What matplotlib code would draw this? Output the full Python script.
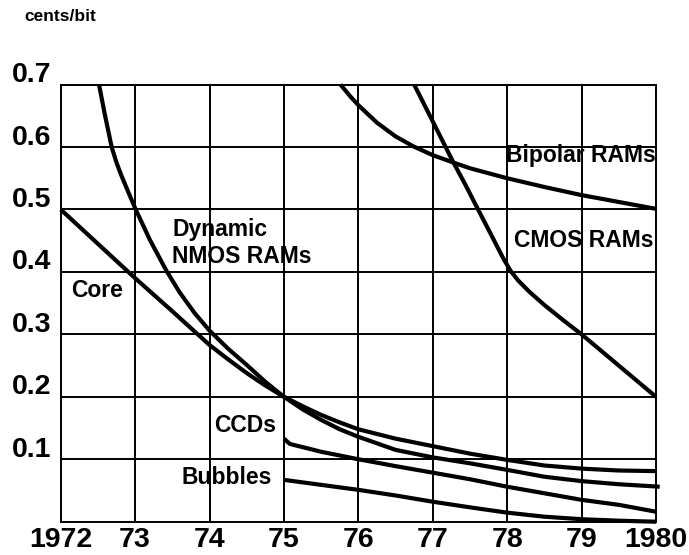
"""
Cost per bit of memory technologies, 1972-1980 (cents/bit).
Redraws the old line chart with a plain black-on-white grid.
"""
import matplotlib
matplotlib.use("Agg")
import matplotlib.pyplot as plt
from matplotlib.transforms import ScaledTranslation

# --- data --------------------------------------------------------------------
core_x = [1972.0, 1972.5, 1973.0, 1973.5, 1974.0, 1974.25, 1974.5, 1974.75, 1975.0,
          1975.25, 1975.5, 1975.75, 1976.0, 1976.5, 1977.0, 1977.5, 1978.0,
          1978.5, 1979.0, 1979.5, 1980.0]
core_y = [0.500, 0.445, 0.390, 0.337, 0.283, 0.260, 0.238, 0.218, 0.200,
          0.185, 0.171, 0.159, 0.148, 0.133, 0.121, 0.109, 0.099,
          0.090, 0.085, 0.082, 0.081]

nmos_x = [1972.515, 1972.595, 1972.685, 1972.75, 1972.82, 1973.0, 1973.2, 1973.42,
          1973.6, 1973.8, 1974.0, 1974.25, 1974.5, 1974.75, 1975.0, 1975.25,
          1975.5, 1975.75, 1976.0, 1976.5, 1977.0, 1977.5, 1978.0, 1978.5,
          1979.0, 1979.5, 1980.05]
nmos_y = [0.700, 0.651, 0.600, 0.575, 0.553, 0.502, 0.451, 0.402,
          0.367, 0.334, 0.306, 0.277, 0.251, 0.224, 0.200, 0.180,
          0.163, 0.148, 0.136, 0.115, 0.103, 0.0935, 0.083, 0.072,
          0.065, 0.060, 0.056]

ccd_x = [1975.0, 1975.08, 1975.5, 1976.0, 1976.5, 1977.0, 1977.5, 1978.0,
         1978.5, 1979.0, 1979.5, 1980.0]
ccd_y = [0.133, 0.1245, 0.112, 0.100, 0.089, 0.0785, 0.068, 0.056,
         0.0455, 0.035, 0.027, 0.016]

bubble_x = [1975.0, 1975.5, 1976.0, 1976.5, 1977.0, 1977.5, 1978.0, 1978.5,
            1979.0, 1979.5, 1980.0]
bubble_y = [0.067, 0.059, 0.051, 0.042, 0.032, 0.023, 0.0145, 0.008,
            0.004, 0.0016, 0.0]

bipolar_x = [1975.76, 1975.9, 1976.0, 1976.25, 1976.5, 1976.74, 1977.0, 1977.28,
             1977.5, 1978.0, 1978.5, 1979.0, 1979.5, 1980.0]
bipolar_y = [0.700, 0.680, 0.667, 0.639, 0.617, 0.601, 0.587, 0.575,
             0.566, 0.550, 0.536, 0.523, 0.512, 0.501]

cmos_x = [1976.75, 1977.0, 1977.27, 1977.45, 1977.6, 1977.8, 1977.95, 1978.05,
          1978.15, 1978.3, 1978.5, 1978.75, 1979.0, 1979.5, 1980.0]
cmos_y = [0.700, 0.641, 0.577, 0.537, 0.502, 0.456, 0.421, 0.401,
          0.386, 0.368, 0.347, 0.323, 0.300, 0.250, 0.200]

years = [1972, 1973, 1974, 1975, 1976, 1977, 1978, 1979, 1980]
year_labels = ["1972", "73", "74", "75", "76", "77", "78", "79", "1980"]
cost_ticks = [0.1, 0.2, 0.3, 0.4, 0.5, 0.6, 0.7]
cost_labels = ["0.1", "0.2", "0.3", "0.4", "0.5", "0.6", "0.7"]

# label text -> (x, y, horizontal alignment)
labels = {
    "Dynamic": (1973.50, 0.468, "left"),
    "NMOS RAMs": (1973.50, 0.425, "left"),
    "Core": (1972.14, 0.370, "left"),
    "CCDs": (1974.06, 0.154, "left"),
    "Bubbles": (1973.63, 0.071, "left"),
    "Bipolar RAMs": (1979.99, 0.587, "right"),
    "CMOS RAMs": (1979.97, 0.451, "right"),
}

FONT = "Liberation Sans"
plt.rcParams["font.family"] = [FONT, "DejaVu Sans"]

fig = plt.figure(figsize=(6.89, 5.55), dpi=100)
ax = fig.add_axes([0.0881, 0.060, 0.864, 0.7876])

ax.set_xlim(1972, 1980)
ax.set_ylim(0, 0.7)

# grid every year / every 0.1
for yr in years:
    ax.axvline(yr, color="black", lw=1.4, zorder=1)
for c in cost_ticks:
    ax.axhline(c, color="black", lw=1.4, zorder=1)
for side in ax.spines.values():
    side.set_linewidth(1.4)

line_kw = dict(color="black", lw=3.0, solid_capstyle="butt",
               solid_joinstyle="round", zorder=3, clip_on=False)
ax.plot(core_x, core_y, **line_kw)
ax.plot(nmos_x, nmos_y, **line_kw)
ax.plot(ccd_x, ccd_y, **line_kw)
ax.plot(bubble_x, bubble_y, **line_kw)
ax.plot(bipolar_x, bipolar_y, **line_kw)
ax.plot(cmos_x, cmos_y, **line_kw)

for text, (x, y, ha) in labels.items():
    ax.text(x, y, text, ha=ha, va="center", fontsize=16.5, fontweight="bold", zorder=4)

ax.set_xticks(years)
ax.set_xticklabels(year_labels, fontsize=20.5, fontweight="bold")
ax.set_yticks(cost_ticks)
ax.set_yticklabels(cost_labels, fontsize=20.5, fontweight="bold")
ax.tick_params(length=0, pad=7)
ax.tick_params(axis="x", pad=4)

# y labels sit a little above their grid line in the original
shift = ScaledTranslation(0, 12.5 / 100, fig.dpi_scale_trans)
for lab in ax.get_yticklabels():
    lab.set_transform(lab.get_transform() + shift)

fig.text(0.036, 0.971, "cents/bit", fontsize=12.5, fontweight="bold", va="center")

fig.savefig("out.png", dpi=100)
